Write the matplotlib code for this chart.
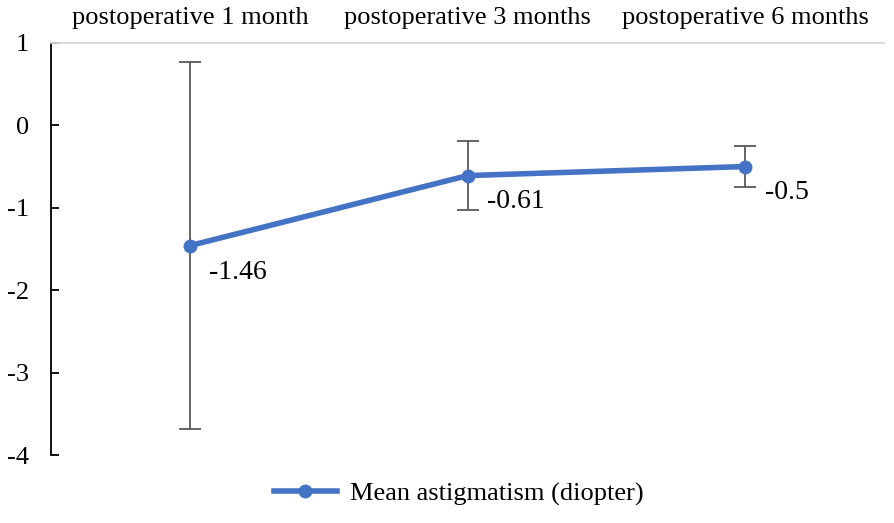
import numpy as np
import matplotlib.pyplot as plt

categories = ["postoperative 1 month", "postoperative 3 months", "postoperative 6 months"]
mean_astig = [-1.46, -0.61, -0.5]
err_sd = [2.23, 0.42, 0.25]
value_labels = ["-1.46", "-0.61", "-0.5"]
yticks = [1, 0, -1, -2, -3, -4]

plt.rcParams['font.family'] = ['Liberation Serif', 'DejaVu Serif']

fig = plt.figure(figsize=(8.94, 5.23), dpi=100)
ax = fig.add_axes([0.057, 0.130, 0.932, 0.788])

x = np.arange(len(categories))
ax.errorbar(x, mean_astig, yerr=err_sd, fmt='none', ecolor='#595959',
            elinewidth=1.3, capsize=8, capthick=1.3, zorder=2)
ax.plot(x, mean_astig, color='#4472C4', lw=4, marker='o', ms=9,
        label='Mean astigmatism (diopter)', zorder=3)

for xi, yi, lab in zip(x, mean_astig, value_labels):
    ax.annotate(lab, (xi, yi), xytext=(14, -10), textcoords='offset points',
                ha='left', va='top', fontsize=20)

ax.set_xlim(-0.5, 2.5)
ax.set_ylim(-4, 1)
ax.set_yticks(yticks)
ax.set_yticklabels([str(t) for t in yticks], fontsize=19)
ax.tick_params(axis='y', direction='in', length=6, width=1.3, pad=16)

ax.xaxis.tick_top()
ax.set_xticks(x)
ax.set_xticklabels(categories, fontsize=19)
ax.tick_params(axis='x', length=0, pad=10)

for s in ['right', 'bottom']:
    ax.spines[s].set_visible(False)
ax.spines['top'].set_color('#D9D9D9')
ax.spines['top'].set_linewidth(1.3)
ax.spines['left'].set_linewidth(1.3)

fig.legend(loc='lower center', bbox_to_anchor=(0.513, -0.012), frameon=False,
           fontsize=19, handlelength=2.4, handletextpad=0.5)

fig.savefig('out.png', dpi=100)
